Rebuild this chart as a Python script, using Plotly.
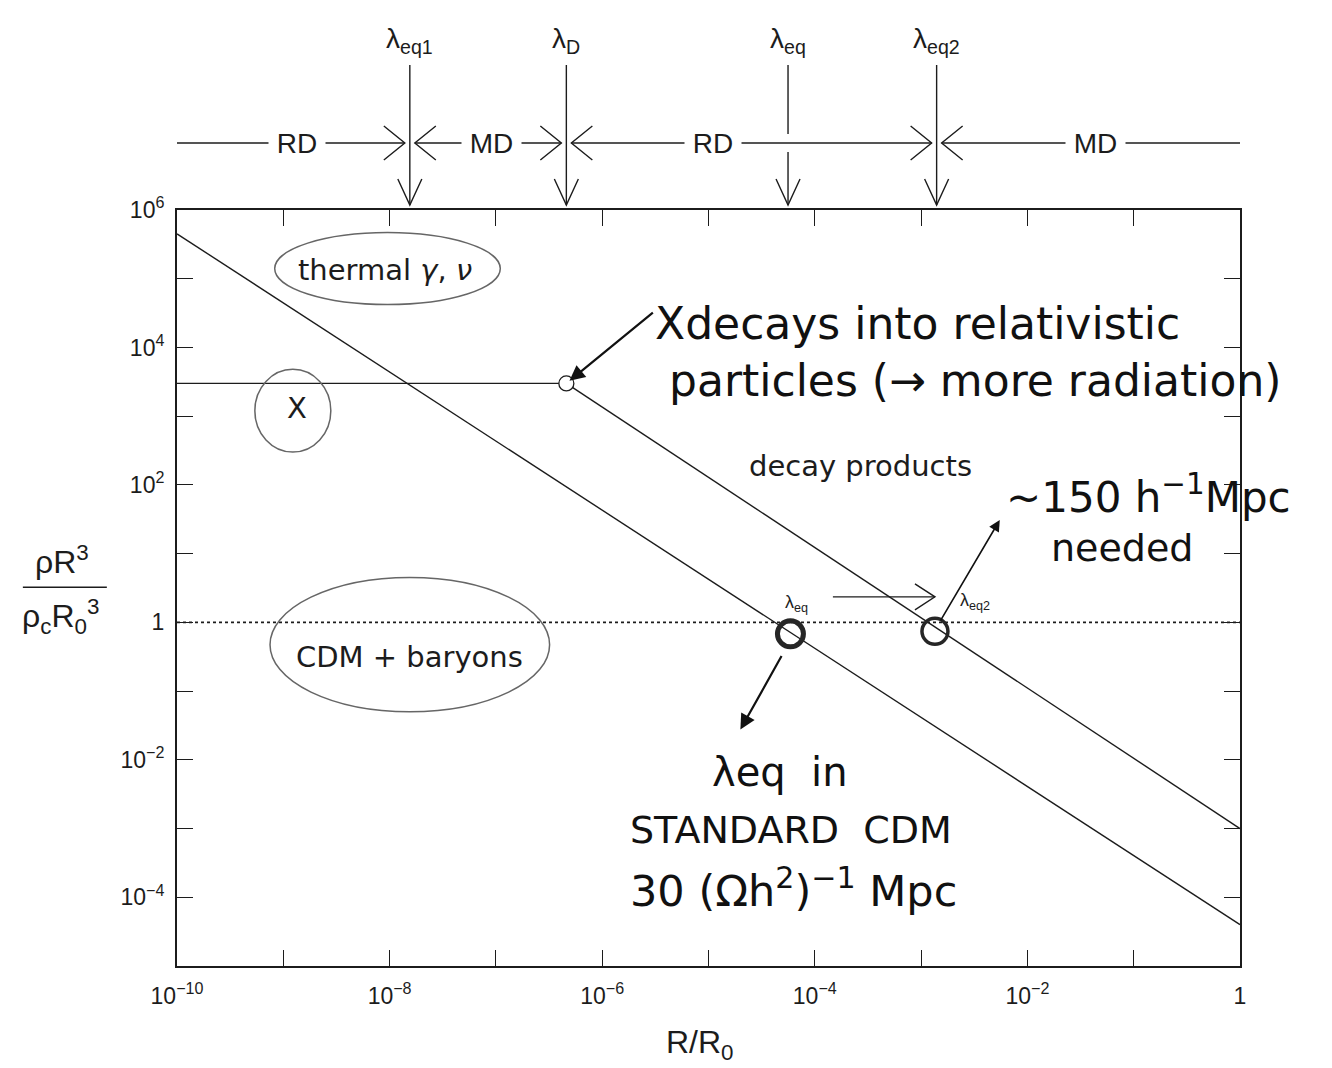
import numpy as np
import plotly.graph_objects as go

INK = "#1c1c1c"
PENCIL = "#666666"
PRINT_FONT = "Liberation Sans, Arial, sans-serif"
LABEL_FONT = "DejaVu Sans, sans-serif"
HAND_FONT = "DejaVu Sans, sans-serif"

# ---------------------------------------------------------------- data
# thermal photons + neutrinos (radiation): rho R^3 falls as R^-1
thermal_x = [1e-10, 1.0]
thermal_y = [4.5e5, 4.0e-5]

# massive X particle, frozen comoving density until it decays
x_particle_x = [1e-10, 4.6e-7]
x_particle_y = [3.0e3, 3.0e3]

# relativistic decay products of X
decay_x = [4.6e-7, 1.0]
decay_y = [3.0e3, 1.0e-3]

# cold dark matter + baryons
cdm_x = [1e-10, 1.0]
cdm_y = [1.0, 1.0]

# moment of decay
decay_point_x = [4.6e-7]
decay_point_y = [3.0e3]

# matter-radiation equality, with and without the decaying X
equality_x = [5.9e-5, 1.35e-3]
equality_y = [0.68, 0.74]
equality_names = ["λ<sub>eq</sub>", "λ<sub>eq2</sub>"]

# epochs marked above the frame
epoch_names = ["λ<sub>eq1</sub>", "λ<sub>D</sub>", "λ<sub>eq</sub>", "λ<sub>eq2</sub>"]
epoch_x = [1.55e-8, 4.6e-7, 5.6e-5, 1.4e-3]

# radiation / matter dominated eras and their boundaries
era_names = ["RD", "MD", "RD", "MD"]
era_x = [1.35e-9, 9.1e-8, 1.1e-5, 4.4e-2]
era_edges = [1.55e-8, 4.6e-7, 1.4e-3]

# axis ticks: labelled every second decade, plain ticks in between
x_major_exp = [-10, -8, -6, -4, -2, 0]
x_minor_exp = [-9, -7, -5, -3, -1]
y_major_exp = [-4, -2, 0, 2, 4, 6]
y_minor_exp = [-5, -3, -1, 1, 3, 5]


def power_label(e):
    if e == 0:
        return "1"
    return f"10<sup>{'−' if e < 0 else ''}{abs(e)}</sup>"


# ---------------------------------------------------------------- traces
fig = go.Figure()
line_style = dict(color=INK, width=1.4)

fig.add_trace(go.Scatter(x=thermal_x, y=thermal_y, mode="lines", line=line_style))
fig.add_trace(go.Scatter(x=x_particle_x, y=x_particle_y, mode="lines", line=line_style))
fig.add_trace(go.Scatter(x=decay_x, y=decay_y, mode="lines", line=line_style))
fig.add_trace(go.Scatter(x=cdm_x, y=cdm_y, mode="lines",
                         line=dict(color=INK, width=1.6, dash="dot")))
fig.add_trace(go.Scatter(x=decay_point_x, y=decay_point_y, mode="markers",
                         marker=dict(symbol="circle", size=15, color="white",
                                     line=dict(color=INK, width=1.3))))
fig.add_trace(go.Scatter(x=equality_x, y=equality_y, mode="markers",
                         marker=dict(symbol="circle-open", size=26, color="#262626",
                                     line=dict(width=[5, 3.5]))))

# ---------------------------------------------------------------- shapes
shapes = []
ERA_ROW = 67        # px above the frame for the era arrows
ARROW_TOP = 145     # px above the frame where epoch arrows start
ARROW_TIP = 5
GAP = 10 ** 0.047   # ~5 px of clearance either side of an epoch line


def head(xa, ya, yref, tip_dx, tip_dy, direction, length, half):
    """Open V arrow head drawn in pixels around an anchor."""
    tx, ty = tip_dx, tip_dy
    if direction == "right":
        p = f"M{tx-length},{ty+half} L{tx},{ty} L{tx-length},{ty-half}"
    elif direction == "left":
        p = f"M{tx+length},{ty+half} L{tx},{ty} L{tx+length},{ty-half}"
    else:  # down
        p = f"M{tx-half},{ty+length} L{tx},{ty} L{tx+half},{ty+length}"
    return dict(type="path", path=p, xref="x", yref=yref,
                xsizemode="pixel", ysizemode="pixel", xanchor=xa, yanchor=ya,
                line=dict(color=INK, width=1.4))


# vertical epoch arrows
for name, ex in zip(epoch_names, epoch_x):
    if ex in era_edges:
        spans = [(ARROW_TIP, ARROW_TOP)]
    else:
        spans = [(ARROW_TIP, ERA_ROW - 9), (ERA_ROW + 9, ARROW_TOP)]
    for y0, y1 in spans:
        shapes.append(dict(type="line", xref="x", yref="paper",
                           xsizemode="pixel", ysizemode="pixel",
                           xanchor=ex, yanchor=1, x0=0, x1=0, y0=y0, y1=y1,
                           line=dict(color=INK, width=1.4)))
    shapes.append(head(ex, 1, "paper", 0, ARROW_TIP, "down", 26, 12))

# horizontal era arrows
bounds = [1e-10] + era_edges + [1.08]
for i in range(len(bounds) - 1):
    a, b = bounds[i], bounds[i + 1]
    x0 = a * GAP if i > 0 else a
    x1 = b / GAP if i < len(bounds) - 2 else b
    shapes.append(dict(type="line", xref="x", yref="paper", ysizemode="pixel",
                       yanchor=1, x0=x0, x1=x1, y0=ERA_ROW, y1=ERA_ROW,
                       line=dict(color=INK, width=1.4)))
for edge in era_edges:
    shapes.append(head(edge, 1, "paper", -5, ERA_ROW, "right", 21, 17))
    shapes.append(head(edge, 1, "paper", 5, ERA_ROW, "left", 21, 17))

# arrow from lambda_eq to lambda_eq2 just above the CDM line
shapes.append(dict(type="line", xref="x", yref="y",
                   x0=1.48e-4, x1=1.35e-3, y0=2.35, y1=2.35,
                   line=dict(color=INK, width=1.3)))
shapes.append(head(1.35e-3, 2.35, "y", 0, 0, "right", 20, 13))

# pencil loops round the component labels
loop = dict(type="circle", xref="x", yref="y", layer="above",
            line=dict(color=PENCIL, width=1.5))
shapes.append(dict(loop, x0=8.3e-10, x1=1.1e-7, y0=4.2e4, y1=4.7e5))
shapes.append(dict(loop, x0=5.4e-10, x1=2.8e-9, y0=300, y1=4.8e3))
shapes.append(dict(loop, x0=7.5e-10, x1=3.2e-7, y0=0.05, y1=4.5))

# ---------------------------------------------------------------- text
ann = []
lg = np.log10

for name, ex in zip(epoch_names, epoch_x):
    ann.append(dict(x=lg(ex), y=1, xref="x", yref="paper", yshift=170,
                    yanchor="middle", xanchor="center",
                    text=name, showarrow=False,
                    font=dict(family=PRINT_FONT, size=28, color=INK)))
for name, ex in zip(era_names, era_x):
    ann.append(dict(x=lg(ex), y=1, xref="x", yref="paper", yshift=ERA_ROW,
                    yanchor="middle", xanchor="center",
                    text=f" {name} ", showarrow=False, bgcolor="white", borderpad=0,
                    font=dict(family=PRINT_FONT, size=28, color=INK)))
for name, ex, ey, dx in zip(equality_names, equality_x, equality_y, [6, 40]):
    ann.append(dict(x=lg(ex), y=lg(ey), xref="x", yref="y", xshift=dx, yshift=30,
                    text=name, showarrow=False,
                    font=dict(family=PRINT_FONT, size=18, color=INK)))

printed = dict(showarrow=False, xref="x", yref="y",
               font=dict(family=LABEL_FONT, size=29, color=INK))
ann.append(dict(printed, x=-8.04, y=5.13, text="thermal <i>γ</i>, <i>ν</i>"))
ann.append(dict(printed, x=-8.87, y=3.12, text="X"))
ann.append(dict(printed, x=-3.57, y=2.28, text="decay products"))
ann.append(dict(printed, x=-7.81, y=-0.50, text="CDM + baryons"))

hand = dict(showarrow=False, xref="x", yref="y",
            font=dict(family=HAND_FONT, size=44, color="#111111"))
ann.append(dict(hand, x=-5.52, y=3.94, xanchor="left", align="left",
                text="Xdecays into relativistic<br> particles (→ more radiation)"))
ann.append(dict(hand, x=-0.86, y=1.86, text="~150 h<sup>−1</sup>Mpc",
                font=dict(hand["font"], size=42)))
ann.append(dict(hand, x=-1.11, y=1.08, text="needed", font=dict(hand["font"], size=38)))
ann.append(dict(hand, x=-4.33, y=-2.18, text="λeq  in", font=dict(hand["font"], size=40)))
ann.append(dict(hand, x=-4.22, y=-3.02, text="STANDARD  CDM",
                font=dict(hand["font"], size=38)))
ann.append(dict(hand, x=-4.20, y=-3.86, text="30 (Ωh<sup>2</sup>)<sup>−1</sup> Mpc",
                font=dict(hand["font"], size=43)))

# hand-drawn pointers
pointer = dict(xref="x", yref="y", text="", showarrow=True, arrowhead=2,
               arrowsize=1.4, arrowwidth=2.2, arrowcolor="#111111")
ann.append(dict(pointer, x=lg(decay_point_x[0]), y=lg(decay_point_y[0]),
                ax=88, ay=-72, standoff=4))
ann.append(dict(pointer, x=-4.70, y=-1.56, ax=42, ay=-75))
ann.append(dict(pointer, x=-2.26, y=1.49, ax=-60, ay=102, arrowwidth=1.6))

# axis titles
title_font = dict(family=PRINT_FONT, size=32, color=INK)
ann.append(dict(x=0.492, y=-0.104, xref="paper", yref="paper", showarrow=False,
                xanchor="center", yanchor="middle",
                text="R/R<sub>0</sub>", font=title_font))
ann.append(dict(x=-0.108, y=0.537, xref="paper", yref="paper", showarrow=False,
                xanchor="center", yanchor="middle",
                text="ρR<sup>3</sup>", font=title_font))
ann.append(dict(x=-0.110, y=0.462, xref="paper", yref="paper", showarrow=False,
                xanchor="center", yanchor="middle",
                text="ρ<sub>c</sub>R<sub>0</sub><sup>3</sup>", font=title_font))
shapes.append(dict(type="line", xref="paper", yref="paper",
                   x0=-0.145, x1=-0.066, y0=0.501, y1=0.501,
                   line=dict(color=INK, width=1.5)))

# ---------------------------------------------------------------- layout
axis_common = dict(type="log", showgrid=False, zeroline=False, showline=True,
                   linecolor=INK, linewidth=2, mirror="ticks", ticks="inside",
                   ticklen=16, tickwidth=1.2, tickcolor=INK,
                   tickfont=dict(family=PRINT_FONT, size=23, color=INK))
minor_common = dict(ticks="inside", ticklen=16, tickwidth=1.2, tickcolor=INK,
                    showgrid=False)

fig.update_layout(
    width=1332, height=1068,
    margin=dict(l=177, r=92, t=210, b=102),
    paper_bgcolor="white", plot_bgcolor="white",
    showlegend=False,
    xaxis=dict(axis_common, range=[-10, 0],
               tickvals=[10.0 ** e for e in x_major_exp],
               ticktext=[power_label(e) for e in x_major_exp],
               minor=dict(minor_common, tickvals=[10.0 ** e for e in x_minor_exp]),
               ticklabelstandoff=8),
    yaxis=dict(axis_common, range=[-5, 6],
               tickvals=[10.0 ** e for e in y_major_exp],
               ticktext=[power_label(e) for e in y_major_exp],
               minor=dict(minor_common, tickvals=[10.0 ** e for e in y_minor_exp]),
               ticklabelstandoff=6),
    shapes=shapes,
    annotations=ann,
)

fig.write_html("out.html")
